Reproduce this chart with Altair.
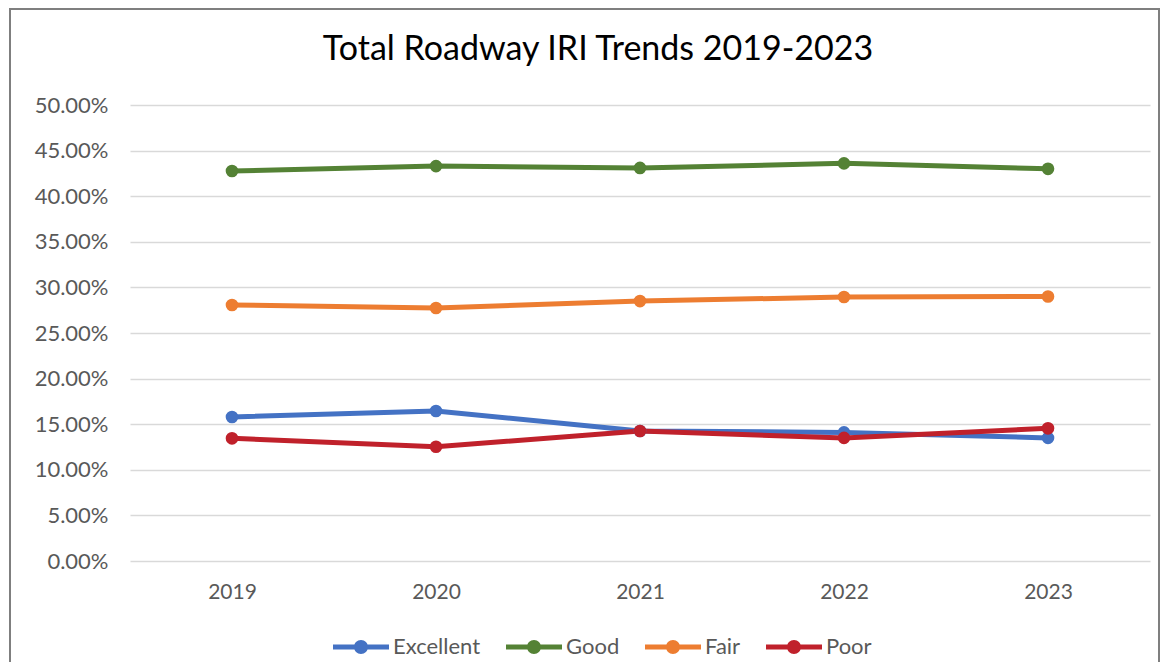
import altair as alt
import pandas as pd

years = ["2019", "2020", "2021", "2022", "2023"]
series_names = ["Excellent", "Good", "Fair", "Poor"]
excellent = [0.1579, 0.1645, 0.1425, 0.1410, 0.1350]
good = [0.4276, 0.4330, 0.4310, 0.4360, 0.4300]
fair = [0.2807, 0.2774, 0.2850, 0.2895, 0.2900]
poor = [0.1345, 0.1253, 0.1425, 0.1350, 0.1455]
colors = ["#4472C4", "#548235", "#ED7D31", "#C0212B"]
title_text = "Total Roadway IRI Trends 2019-2023"

rows = []
for name, vals in zip(series_names, [excellent, good, fair, poor]):
    for y, v in zip(years, vals):
        rows.append({"Year": y, "Series": name, "Value": v, "order": series_names.index(name)})
df = pd.DataFrame(rows)

FONT = "Lato"
W, H = 1020, 456

legend_path = ("M-1,-0.09 L1,-0.09 L1,0.09 L-1,0.09 Z "
               "M-0.25,0 A0.25,0.25 0 1,1 0.25,0 A0.25,0.25 0 1,1 -0.25,0 Z")

color = alt.Color(
    "Series:N",
    scale=alt.Scale(domain=series_names, range=colors),
    legend=alt.Legend(
        title=None,
        orient="none",
        legendX=203,
        legendY=514,
        direction="horizontal",
        symbolType=legend_path,
        symbolSize=3136,
        symbolStrokeWidth=0,
        symbolOpacity=1,
        labelFont=FONT,
        labelFontSize=22,
        labelColor="#595959",
        labelOffset=4,
        columnPadding=25,
    ),
)

base = alt.Chart(df).encode(
    x=alt.X(
        "Year:O",
        sort=years,
        scale=alt.Scale(type="point", padding=0.5),
        axis=alt.Axis(
            title=None, labelAngle=0, domain=False, ticks=False,
            labelFont=FONT, labelFontSize=21, labelColor="#595959", labelPadding=20,
            grid=False,
        ),
    ),
    y=alt.Y(
        "Value:Q",
        scale=alt.Scale(domain=[0, 0.5]),
        axis=alt.Axis(
            title=None, format=".2%", values=[i * 0.05 for i in range(11)],
            domain=False, ticks=False, labelFont=FONT, labelFontSize=22,
            labelColor="#595959", labelPadding=22, gridColor="#D9D9D9", gridWidth=1.5,
        ),
    ),
    color=color,
    order=alt.Order("order:Q"),
)

lines = base.mark_line(strokeWidth=5).encode(detail="Series:N")
points = base.mark_point(filled=True, size=160, opacity=1)

one = pd.DataFrame({"t": [title_text]})

border = alt.Chart(one).mark_rect(
    fillOpacity=0, stroke="#7F7F7F", strokeWidth=2, clip=False
).encode(
    x=alt.value(-120), x2=alt.value(1029), y=alt.value(-96), y2=alt.value(600)
)

title = alt.Chart(one).mark_text(
    font=FONT, fontSize=34, color="#000000", align="center", baseline="middle"
).encode(text="t:N", x=alt.value(468), y=alt.value(-55))

chart = alt.layer(border, title, lines, points).properties(
    width=W,
    height=H,
    background="white",
    autosize=alt.AutoSizeParams(type="none"),
    padding={"left": 122, "top": 97, "right": 10, "bottom": 101},
).configure_view(strokeWidth=0)

chart.save("out.html", embed_options={"renderer": "svg", "actions": False})
